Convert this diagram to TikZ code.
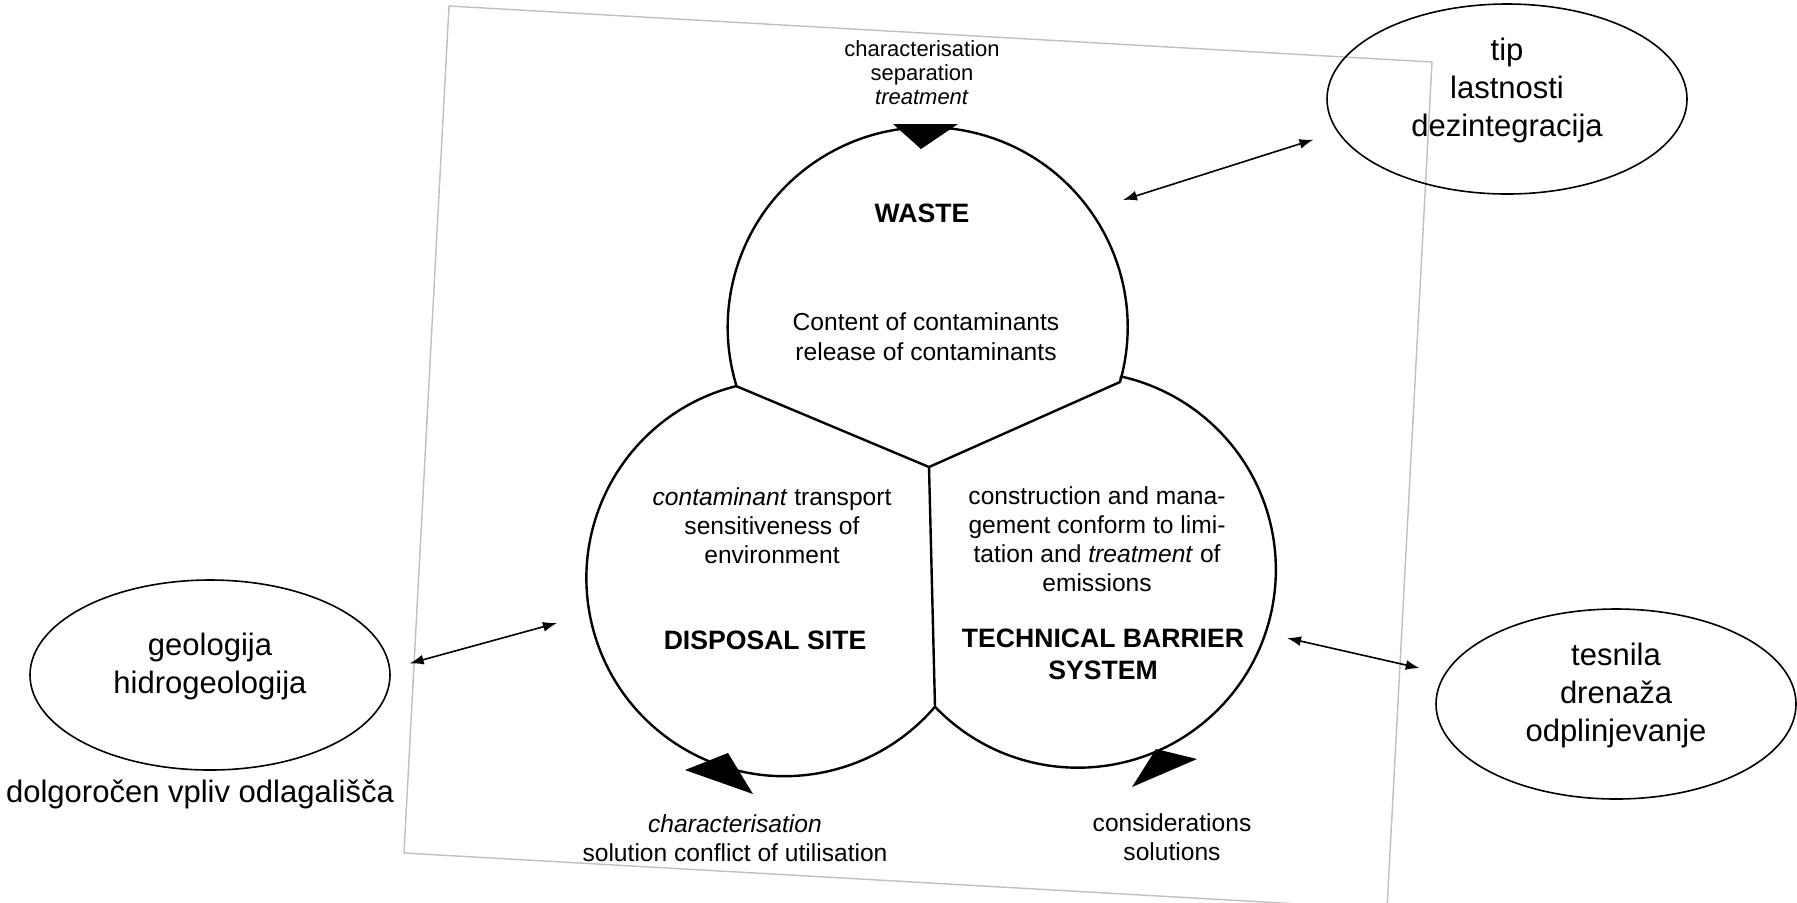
\documentclass[tikz,border=0pt]{standalone}
\usepackage{fontspec}
\setmainfont{Liberation Sans}
\usetikzlibrary{shapes.geometric,arrows.meta,positioning}
\tikzset{
oval/.style={
	  draw, ellipse, line width=0.8pt, minimum width=180pt,
	    minimum height=95pt},
ovaltext/.style={align=center, yshift=4.5pt, font=\fontsize{15.5}{19}\selectfont},
scan/.style={align=center, font=\fontsize{12.3}{14.5}\selectfont},
lobetitle/.style={align=center, font=\fontsize{13.3}{16}\selectfont\bfseries},
lobe/.style={line width=1.2pt, line join=round},
link/.style={{Latex[length=7pt,width=5pt]}-{Latex[length=7pt,width=5pt]}, line width=0.8pt},
cyclehead/.style={fill=black},
scanframe/.style={draw=black!25, line width=0.7pt}
}

\begin{document}
\begin{tikzpicture}[x=0.5pt, y=-0.5pt]
	\useasboundingbox (0,0) rectangle (1797,902);
	\begin{scope}
		\clip (0,0) rectangle (1797,902);
		\draw[scanframe] (449,6) -- (1432,62) -- (1387,909) -- (404,853) -- cycle;
	\end{scope}
	\coordinate (jr) at (1120,382);
	\coordinate (jl) at (736,386);
	\coordinate (jb) at (935,707);
	\coordinate (mid) at (929,467);
	\draw[lobe] (jr) arc[start angle=15.9, end angle=-197.1, radius=200]
		arc[start angle=-104, end angle=-319.5, radius=198]
		arc[start angle=136.2, end angle=-77.4, radius=198] -- cycle;
	\draw[lobe] (jl) -- (mid) -- (jb) (jr) -- (mid);
	\fill[cyclehead] (893,124) -- (958,124) -- (921,149) -- cycle;
	\fill[cyclehead] (685,770) -- (728,753) -- (753,794) -- cycle;
	\fill[cyclehead] (1156,749) -- (1197,759) -- (1132,787) -- cycle;
	\node[scan, font=\fontsize{11}{12}\selectfont] (wastein) at (922,73)
		{characterisation\\separation\\\textit{treatment}};
	\node[lobetitle] (waste) at (922,213) {WASTE};
	\node[scan, font=\fontsize{12.3}{15}\selectfont] (wastetxt) at (926,337)
		{Content of contaminants\\release of contaminants};
	\node[scan] (sitetxt) at (772,526)
		{\textit{contaminant} transport\\sensitiveness of\\environment};
	\node[lobetitle] (site) at (765,640) {DISPOSAL SITE};
	\node[scan] (tbstxt) at (1097,539)
		{construction and mana-\\gement conform to limi-\\tation and \textit{treatment} of\\emissions};
	\node[lobetitle] (tbs) at (1103,654) {TECHNICAL BARRIER\\SYSTEM};
	\node[scan] (siteout) at (735,838)
		{\textit{characterisation}\\solution conflict of utilisation};
	\node[scan] (tbsout) at (1172,837) {considerations\\solutions};
	\node[oval, label={[name=tiptext, ovaltext]center:tip\\lastnosti\\dezintegracija}]
		(tip) at (1507,99) {};
	\node[oval, label={[name=geotext, ovaltext]center:geologija\\hidrogeologija}]
		(geo) at (210,675) {};
	\node[oval, label={[name=testext, ovaltext]center:tesnila\\drenaža\\odplinjevanje}]
		(tes) at (1616,704) {};
	\node[below=1pt of geo, xshift=-5pt, font=\fontsize{15.5}{19}\selectfont] (vpliv)
		{dolgoročen vpliv odlagališča};
	\coordinate (wasteend) at (1123,200);
	\coordinate (siteend) at (557,623);
	\coordinate (tbsend) at (1287,638);
	\draw[link, shorten >=12.5pt] (wasteend) -- (tip.191);
	\draw[link, shorten >=10pt] (siteend) -- (geo.2);
	\draw[link, shorten >=12.7pt] (tbsend) -- (tes.170);
\end{tikzpicture}
\end{document}
